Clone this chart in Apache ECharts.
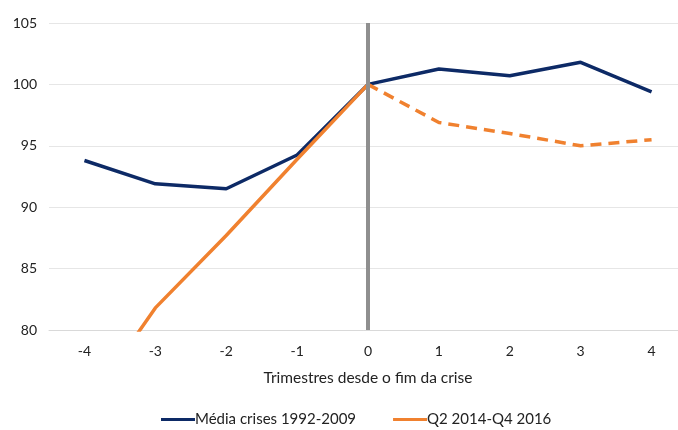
<!doctype html>
<html>
<head>
    <meta charset="utf-8">
    <title>Trimestres desde o fim da crise</title>
    <script src="https://cdn.jsdelivr.net/npm/echarts@6/dist/echarts.min.js"></script>
</head>
<body style="margin:0;padding:0">
    <div id="tb" style="width:678px;height:430px"></div>
    <script>
        // dados
        var categorias = ['-4', '-3', '-2', '-1', '0', '1', '2', '3', '4'];
        var mediaCrises = [93.8, 91.9, 91.5, 94.25, 100, 101.25, 100.7, 101.8, 99.4];
        // Q2 2014-Q4 2016: parte observada (solida) e parte projectada (tracejada)
        var q2Solida = [73.5, 81.8, 87.7, 93.9, 100, null, null, null, null];
        var q2Tracejada = [null, null, null, null, 100, 96.9, 96.0, 95.0, 95.5];

        var fonte = 'Lato';
        var chart = echarts.init(document.getElementById('tb'));
        chart.setOption({
            animation: false,
            grid: {
                left: 49,
                width: 638,
                top: 23,
                bottom: 100,
                containLabel: false,
                outerBoundsMode: 'none'
            },
            legend: {
                bottom: -2,
                left: 156,
                itemWidth: 34,
                itemHeight: 3,
                itemGap: 37,
                textStyle: { fontFamily: fonte, fontSize: 15, color: '#222', padding: [0, 0, 0, -5] },
                data: [
                    { name: 'Média crises 1992-2009', icon: 'rect' },
                    { name: 'Q2 2014-Q4 2016', icon: 'rect' }
                ]
            },
            xAxis: {
                type: 'category',
                data: categorias,
                name: 'Trimestres desde o fim da crise',
                nameLocation: 'middle',
                nameGap: 40,
                nameTextStyle: { fontFamily: fonte, fontSize: 15.5, color: '#222' },
                axisLine: { lineStyle: { color: '#d9d9d9', width: 1 } },
                axisTick: { show: false },
                axisLabel: { fontFamily: fonte, fontSize: 14, color: '#222', margin: 14 }
            },
            yAxis: {
                type: 'value',
                min: 80,
                max: 105,
                interval: 5,
                axisLine: { show: false },
                axisTick: { show: false },
                axisLabel: { fontFamily: fonte, fontSize: 14, color: '#222', margin: 12 },
                splitLine: { lineStyle: { color: '#e6e6e6', width: 1 } }
            },
            series: [
                {
                    name: 'Média crises 1992-2009',
                    type: 'line',
                    data: mediaCrises,
                    showSymbol: false,
                    z: 3,
                    itemStyle: { color: '#0d2a66' },
                    lineStyle: { color: '#0d2a66', width: 3.5 },
                    markLine: {
                        silent: true,
                        symbol: 'none',
                        label: { show: false },
                        lineStyle: { color: '#8f8f8f', width: 4, type: 'solid' },
                        data: [{ xAxis: '0' }]
                    }
                },
                {
                    name: 'Q2 2014-Q4 2016',
                    type: 'line',
                    data: q2Solida,
                    showSymbol: false,
                    z: 4,
                    itemStyle: { color: '#f0812f' },
                    lineStyle: { color: '#f0812f', width: 3.5 }
                },
                {
                    name: 'Q2 projeccao',
                    type: 'line',
                    data: q2Tracejada,
                    showSymbol: false,
                    z: 4,
                    itemStyle: { color: '#f0812f' },
                    lineStyle: { color: '#f0812f', width: 3.5, type: [11, 7] }
                }
            ]
        });
    </script>
</body>
</html>
